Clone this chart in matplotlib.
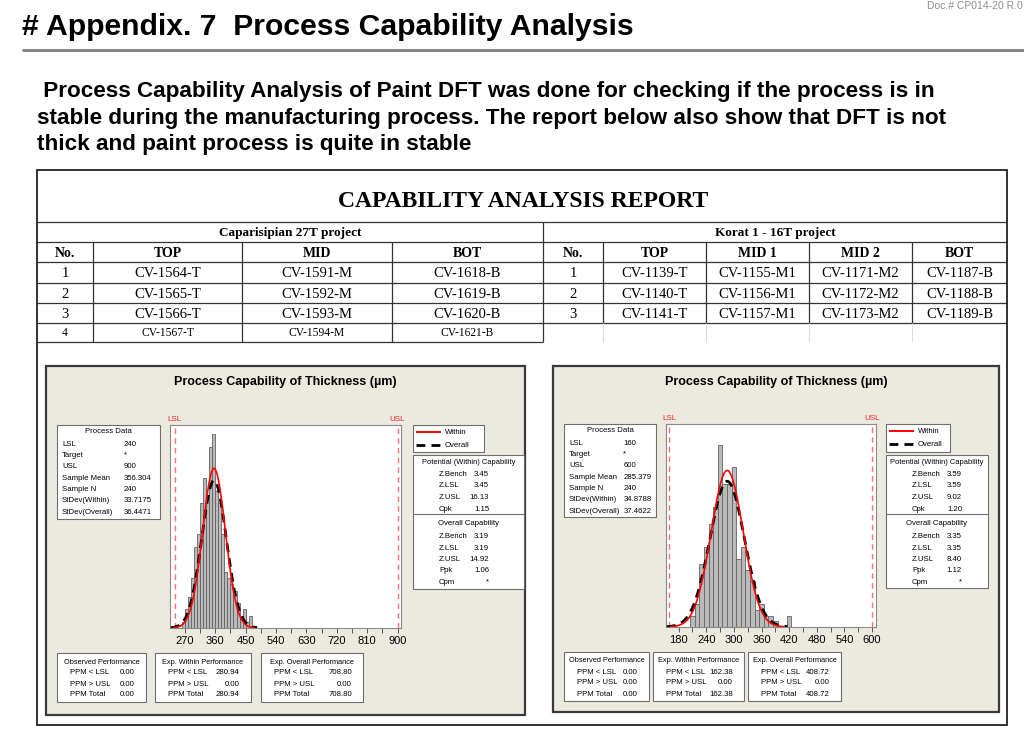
import numpy as np
import matplotlib.pyplot as plt
from matplotlib.patches import Rectangle
from matplotlib.ticker import MultipleLocator

W, H = 1024, 737
SANS = 'Liberation Sans'
SERIF = 'Liberation Serif'
PANEL_BG = '#ECE9DF'

# ---------------- data ----------------
page_title = '# Appendix. 7  Process Capability Analysis'
doc_no = 'Doc.# CP014-20 R.0'
intro_lines = [' Process Capability Analysis of Paint DFT was done for checking if the process is in',
               'stable during the manufacturing process. The report below also show that DFT is not',
               'thick and paint process is quite in stable']

left_project = 'Caparisipian 27T project'
right_project = 'Korat 1 - 16T project'
left_cols = ['No.', 'TOP', 'MID', 'BOT']
left_rows = [['1', 'CV-1564-T', 'CV-1591-M', 'CV-1618-B'],
             ['2', 'CV-1565-T', 'CV-1592-M', 'CV-1619-B'],
             ['3', 'CV-1566-T', 'CV-1593-M', 'CV-1620-B'],
             ['4', 'CV-1567-T', 'CV-1594-M', 'CV-1621-B']]
right_cols = ['No.', 'TOP', 'MID 1', 'MID 2', 'BOT']
right_rows = [['1', 'CV-1139-T', 'CV-1155-M1', 'CV-1171-M2', 'CV-1187-B'],
              ['2', 'CV-1140-T', 'CV-1156-M1', 'CV-1172-M2', 'CV-1188-B'],
              ['3', 'CV-1141-T', 'CV-1157-M1', 'CV-1173-M2', 'CV-1189-B']]

# Caparisipian 27T thickness histogram (bin width 9 um)
cap_bin_width = 9
cap_bin_starts = [261, 270, 279, 288, 297, 306, 315, 324, 333, 342, 351, 360,
                  369, 378, 387, 396, 405, 414, 423, 432, 441, 450, 459]
cap_counts = [1, 3, 5, 8, 13, 15, 20, 24, 21, 29, 31, 22,
              20, 15, 9, 8, 7, 6, 4, 2, 3, 1, 2]
cap_lsl, cap_usl = 240, 900
cap_mean, cap_n = 356.304, 240
cap_sd_within, cap_sd_overall = 33.7175, 36.4471
cap_within = [3.45, 3.45, 16.13, 1.15]
cap_overall = [3.19, 3.19, 14.92, 1.06]
cap_ppm_observed = [0.00, 0.00, 0.00]
cap_ppm_within = [280.94, 0.00, 280.94]
cap_ppm_overall = [708.80, 0.00, 708.80]
cap_ticks = [270, 360, 450, 540, 630, 720, 810, 900]

# Korat 1 - 16T thickness histogram (bin width 10 um)
kor_bin_width = 10
kor_bin_starts = [205, 215, 225, 235, 245, 255, 265, 275, 285, 295, 305,
                  315, 325, 335, 345, 355, 365, 375, 385, 395, 405, 415]
kor_counts = [2, 4, 11, 14, 18, 21, 32, 25, 25, 28, 12,
              14, 10, 8, 3, 4, 2, 2, 1, 0, 0, 2]
kor_lsl, kor_usl = 160, 600
kor_mean, kor_n = 285.379, 240
kor_sd_within, kor_sd_overall = 34.8788, 37.4622
kor_within = [3.59, 3.59, 9.02, 1.20]
kor_overall = [3.35, 3.35, 8.40, 1.12]
kor_ppm_observed = [0.00, 0.00, 0.00]
kor_ppm_within = [162.38, 0.00, 162.38]
kor_ppm_overall = [408.72, 0.00, 408.72]
kor_ticks = [180, 240, 300, 360, 420, 480, 540, 600]

within_names = ['Z.Bench', 'Z.LSL', 'Z.USL', 'Cpk']
overall_names = ['Z.Bench', 'Z.LSL', 'Z.USL', 'Ppk', 'Cpm']
ppm_names = ['PPM < LSL', 'PPM > USL', 'PPM Total']
perf_titles = ['Observed Performance', 'Exp. Within Performance', 'Exp. Overall Performance']
process_names = ['LSL', 'Target', 'USL', 'Sample Mean', 'Sample N', 'StDev(Within)', 'StDev(Overall)']

# ---------------- figure ----------------
fig = plt.figure(figsize=(W / 100, H / 100), dpi=100)
bg = fig.add_axes([0, 0, 1, 1])
bg.set_xlim(0, W)
bg.set_ylim(H, 0)
bg.axis('off')


def frac(x0, y0, x1, y1):
    return [x0 / W, 1 - y1 / H, (x1 - x0) / W, (y1 - y0) / H]


def line(xs, ys, **kw):
    kw.setdefault('color', '#333333')
    kw.setdefault('lw', 0.9)
    bg.plot(xs, ys, solid_capstyle='butt', **kw)


def box(x0, y0, x1, y1, fc='white', ec='#6e6e6e', lw=0.8, z=2):
    bg.add_patch(Rectangle((x0, y0), x1 - x0, y1 - y0, fc=fc, ec=ec, lw=lw, zorder=z))


def t(x, y, s, size=5.6, ha='left', va='center', **kw):
    kw.setdefault('family', SANS)
    bg.text(x, y, s, fontsize=size, ha=ha, va=va, zorder=5, **kw)


# header
t(927, 6, doc_no, size=7.5, color='#8c8c8c')
t(22, 35, page_title, size=21.7, va='baseline', weight='bold')
line([22, W], [50, 50], color='#808080', lw=2)
for i, s in enumerate(intro_lines):
    t(37, 97 + i * 26.5, s, size=16.2, va='baseline', weight='bold')

# report frame and table
box(37, 170, 1007, 725, fc='none', ec='#222222', lw=1.3, z=3)
t(523, 207, 'CAPABILITY ANALYSIS REPORT', size=17, ha='center', va='baseline',
  weight='bold', family=SERIF)
for y in [222, 242, 262, 283, 303, 323]:
    line([37, 1007], [y, y])
line([37, 543], [342, 342])
line([543, 543], [222, 342])
left_x = [37, 93, 242, 392, 543]
right_x = [543, 603, 706, 809, 912, 1007]
for x in left_x[1:-1]:
    line([x, x], [242, 342])
for x in right_x[1:-1]:
    line([x, x], [242, 323])
    line([x, x], [323, 342], color='#dddddd', lw=0.8)
t(290, 236, left_project, size=9.5, ha='center', va='baseline', weight='bold', family=SERIF)
t(775, 236, right_project, size=9.5, ha='center', va='baseline', weight='bold', family=SERIF)
row_base = [277, 297.5, 317.5, 336]
for cols, rows, xs in [(left_cols, left_rows, left_x), (right_cols, right_rows, right_x)]:
    for j, c in enumerate(cols):
        t((xs[j] + xs[j + 1]) / 2, 257, c, size=10, ha='center', va='baseline',
          weight='bold', family=SERIF)
    for i, r in enumerate(rows):
        for j, c in enumerate(r):
            t((xs[j] + xs[j + 1]) / 2, row_base[i], c, size=10.5 if i < 3 else 8.3,
              ha='center', va='baseline', family=SERIF)

cap_layout = dict(panel=(46, 366, 525, 715), plot=(170, 425, 401, 628),
                  pdata=(57, 425, 160, 519), legend=(413, 425, 484, 452),
                  capbox=(413, 455, 524, 589),
                  perf=[(57, 146), (155, 251), (261, 363)], perf_y=(653, 702),
                  xlim=(226, 910), ytop=32.5)
kor_layout = dict(panel=(553, 366, 999, 712), plot=(666, 424, 876, 627),
                  pdata=(564, 424, 656, 517), legend=(886, 424, 950, 452),
                  capbox=(886, 455, 988, 588),
                  perf=[(564, 649), (653, 744), (748, 841)], perf_y=(652, 701),
                  xlim=(152.5, 608.5), ytop=35.6)


def panel(lay, starts, counts, bw, lsl, usl, mean, n, sdw, sdo,
          within, overall, ppm_obs, ppm_w, ppm_o, ticks):
    x0, y0, x1, y1 = lay['panel']
    box(x0, y0, x1, y1, fc=PANEL_BG, ec='#3a3a3a', lw=1.6, z=1)
    t((x0 + x1) / 2, y0 + 16, 'Process Capability of Thickness (µm)', size=9,
      ha='center', weight='bold')

    # histogram with fitted normal curves
    px0, py0, px1, py1 = lay['plot']
    ax = fig.add_axes(frac(px0, py0, px1, py1))
    ax.bar(starts, counts, width=bw, align='edge', color='#BABABA',
           edgecolor='#636363', lw=0.6, zorder=2)
    for sd, col, ls, lw in [(sdo, 'black', (0, (3.2, 2.2)), 2.0), (sdw, 'red', '-', 1.2)]:
        lo = max(lay['xlim'][0], mean - 3.5 * sd)
        xs = np.linspace(lo, mean + 3.5 * sd, 400)
        ys = n * bw * np.exp(-0.5 * ((xs - mean) / sd) ** 2) / (sd * np.sqrt(2 * np.pi))
        ax.plot(xs, ys, color=col, ls=ls, lw=lw, zorder=3)
    for v, lab in [(lsl, 'LSL'), (usl, 'USL')]:
        ax.axvline(v, color='#ff6f6f', lw=1.0, ls=(0, (4, 3)), zorder=1)
        ax.text(v, 1.012, lab, transform=ax.get_xaxis_transform(), ha='center',
                va='bottom', color='#e8262b', fontsize=5.8, family=SANS)
    ax.set_xlim(lay['xlim'])
    ax.set_ylim(0, lay['ytop'])
    ax.set_yticks([])
    ax.set_xticks(ticks)
    ax.xaxis.set_minor_locator(MultipleLocator((ticks[1] - ticks[0]) / 2))
    ax.tick_params(axis='x', which='both', direction='out', length=3.5, width=0.7,
                   color='#555555', labelsize=8, pad=2)
    for lab in ax.get_xticklabels():
        lab.set_family(SANS)
    for sp in ax.spines.values():
        sp.set_color('#8a8a8a')
        sp.set_linewidth(0.8)

    # process data
    bx0, by0, bx1, by1 = lay['pdata']
    box(bx0, by0, bx1, by1)
    t((bx0 + bx1) / 2, by0 + 6.5, 'Process Data', ha='center')
    vals = [str(lsl), '*', str(usl), f'{mean:.3f}', str(n), f'{sdw:.4f}', f'{sdo:.4f}']
    for i, (nm, v) in enumerate(zip(process_names, vals)):
        y = by0 + 19 + i * 11.35
        t(bx0 + 5, y, nm)
        t(bx0 + 0.645 * (bx1 - bx0), y, v)

    # legend
    lx0, ly0, lx1, ly1 = lay['legend']
    box(lx0, ly0, lx1, ly1)
    line([lx0 + 3, lx0 + 28], [ly0 + 7, ly0 + 7], color='red', lw=1.4)
    line([lx0 + 3, lx0 + 28], [ly0 + 20, ly0 + 20], color='black', lw=2.0, ls=(0, (3.2, 2.2)))
    t(lx0 + 32, ly0 + 7, 'Within')
    t(lx0 + 32, ly0 + 20, 'Overall')

    # capability
    cx0, cy0, cx1, cy1 = lay['capbox']
    box(cx0, cy0, cx1, cy1)
    line([cx0, cx1], [cy0 + 59, cy0 + 59], color='#6e6e6e', lw=0.8, zorder=3)
    t((cx0 + cx1) / 2, cy0 + 7, 'Potential (Within) Capability', ha='center', size=5.4)
    for i, (nm, v) in enumerate(zip(within_names, within)):
        y = cy0 + 19 + i * 11.7
        t(cx0 + 26, y, nm)
        t(cx0 + 76, y, f'{v:.2f}', ha='right')
    t((cx0 + cx1) / 2, cy0 + 68.3, 'Overall Capability', ha='center')
    for i, nm in enumerate(overall_names):
        y = cy0 + 82 + i * 11.3
        v = f'{overall[i]:.2f}' if i < len(overall) else '*'
        t(cx0 + 26, y, nm)
        t(cx0 + 76, y, v, ha='right')

    # performance boxes
    qy0, qy1 = lay['perf_y']
    for (qx0, qx1), title, vals in zip(lay['perf'], perf_titles, [ppm_obs, ppm_w, ppm_o]):
        box(qx0, qy0, qx1, qy1)
        t((qx0 + qx1) / 2, qy0 + 9, title, ha='center', size=5.3)
        for i, (nm, v) in enumerate(zip(ppm_names, vals)):
            y = qy0 + 20 + i * 11
            t(qx0 + 13, y, nm)
            t(qx1 - 11, y, f'{v:.2f}', ha='right')


panel(cap_layout, cap_bin_starts, cap_counts, cap_bin_width, cap_lsl, cap_usl,
      cap_mean, cap_n, cap_sd_within, cap_sd_overall, cap_within, cap_overall,
      cap_ppm_observed, cap_ppm_within, cap_ppm_overall, cap_ticks)
panel(kor_layout, kor_bin_starts, kor_counts, kor_bin_width, kor_lsl, kor_usl,
      kor_mean, kor_n, kor_sd_within, kor_sd_overall, kor_within, kor_overall,
      kor_ppm_observed, kor_ppm_within, kor_ppm_overall, kor_ticks)

fig.savefig('out.png', dpi=100)
